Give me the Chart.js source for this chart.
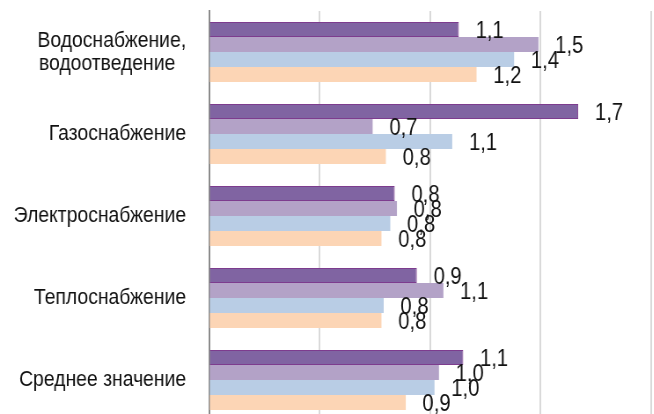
<!DOCTYPE html>
<html lang="ru">
<head>
<meta charset="utf-8">
<script src="https://cdn.jsdelivr.net/npm/chart.js@4/dist/chart.umd.min.js"></script>
<style>
  html, body { margin: 0; padding: 0; background: #fff; }
  #frame { width: 654px; height: 414px; overflow: hidden; position: relative; }
  /* the chart is laid out a bit wider and squeezed horizontally */
  #wrap { width: 743px; height: 422px; transform: scaleX(0.88); transform-origin: 0 0; position: relative; }
</style>
</head>
<body>
<div id="frame"><div id="wrap"><canvas id="chart"></canvas></div></div>
<script>
// Categories (y axis)
const categories = [
    ["Водоснабжение,", "водоотведение  "],
    "Газоснабжение",
    "Электроснабжение",
    "Теплоснабжение",
    "Среднее значение"
];

// Series values
const series1 = [1.13, 1.67, 0.84, 0.94, 1.15];
const series2 = [1.49, 0.74, 0.85, 1.06, 1.04];
const series3 = [1.38, 1.10, 0.82, 0.79, 1.02];
const series4 = [1.21, 0.80, 0.78, 0.78, 0.89];

// Value axis
const axisMin = 0;
const axisMax = 2;
const axisStep = 0.5;

const FONT = '"Liberation Sans", Arial, sans-serif';

// Value labels next to the bar ends
const barValueLabels = {
    id: 'barValueLabels',
    afterDatasetsDraw(chart) {
        const ctx = chart.ctx;
        ctx.save();
        ctx.font = '23px ' + FONT;
        ctx.fillStyle = '#111';
        ctx.textAlign = 'left';
        ctx.textBaseline = 'middle';
        chart.data.datasets.forEach((ds, i) => {
            const meta = chart.getDatasetMeta(i);
            meta.data.forEach((bar, j) => {
                const txt = ds.data[j].toFixed(1).replace('.', ',');
                ctx.fillText(txt, bar.x + 19, bar.y + 2);
            });
        });
        ctx.restore();
    }
};

new Chart(document.getElementById('chart'), {
    type: 'bar',
    data: {
        labels: categories,
        datasets: [
            { label: 'Ряд 1', data: series1, backgroundColor: '#8064A2', borderColor: '#7D3C8E', borderWidth: 1 },
            { label: 'Ряд 2', data: series2, backgroundColor: '#B3A2C7', borderWidth: 0 },
            { label: 'Ряд 3', data: series3, backgroundColor: '#B9CDE5', borderWidth: 0 },
            { label: 'Ряд 4', data: series4, backgroundColor: '#FCD5B5', borderWidth: 0 }
        ]
    },
    options: {
        indexAxis: 'y',
        responsive: true,
        maintainAspectRatio: false,
        animation: false,
        devicePixelRatio: 1,
        layout: { padding: { top: 11, bottom: 1, right: 3, left: 0 } },
        datasets: { bar: { categoryPercentage: 0.732, barPercentage: 1 } },
        plugins: { legend: { display: false }, tooltip: { enabled: false } },
        scales: {
            x: {
                min: axisMin,
                max: axisMax,
                afterFit(scale) {
                    scale.height = 0;
                    scale.paddingLeft = 0;
                    scale.paddingRight = 0;
                },
                ticks: { display: false, stepSize: axisStep },
                grid: { color: '#d9d9d9', lineWidth: 2, drawTicks: false },
                border: { display: false }
            },
            y: {
                afterFit(scale) {
                    scale.width = 237.5;
                    scale.paddingTop = 0;
                    scale.paddingBottom = 0;
                },
                ticks: {
                    color: '#111',
                    padding: 26,
                    font: { family: FONT, size: 22, lineHeight: 1.05 }
                },
                grid: { display: false, drawTicks: false },
                border: { display: true, color: '#8a8a8a', width: 2 }
            }
        }
    },
    plugins: [barValueLabels]
});
</script>
</body>
</html>
